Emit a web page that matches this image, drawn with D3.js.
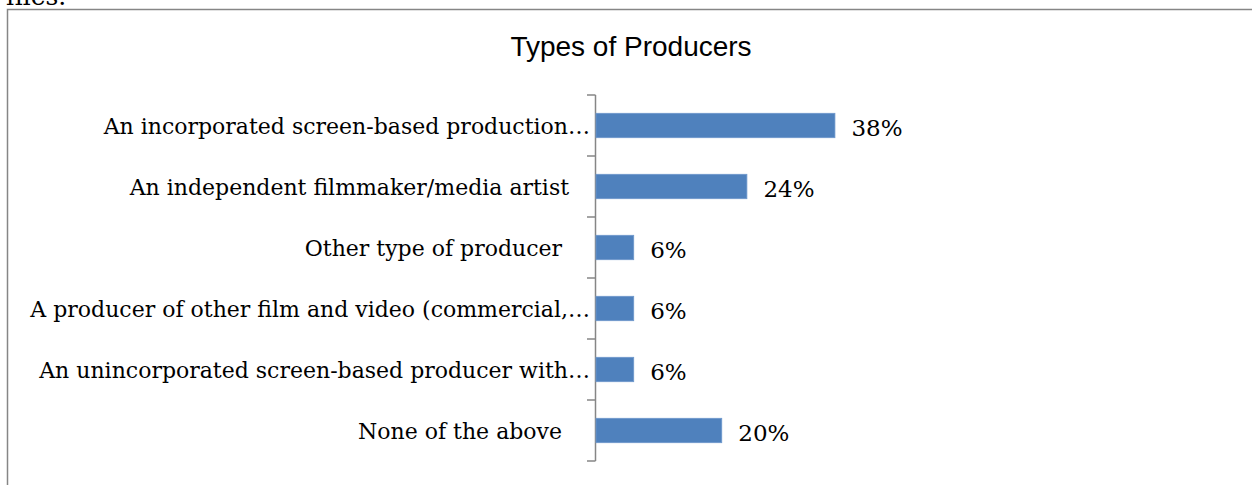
<!DOCTYPE html>
<html>
<head>
<meta charset="utf-8">
<script src="https://cdn.jsdelivr.net/npm/d3@7"></script>
<style>
  html, body { margin: 0; padding: 0; background: #fff; }
  svg { display: block; }
  text { white-space: pre; }
</style>
</head>
<body>
<svg id="chart" width="1252" height="485"></svg>
<script>
// Survey response: type of producer (share of respondents, %)
const categories = [
  "An incorporated screen-based production…",
  "An independent filmmaker/media artist   ",
  "Other type of producer    ",
  "A producer of other film and video (commercial,…",
  "An unincorporated screen-based producer with…",
  "None of the above    "
];
const values = [38, 24, 6, 6, 6, 20];
const valueLabels = ["38%", "24%", "6%", "6%", "6%", "20%"];
const chartTitle = "Types of Producers";

const svg = d3.select("#chart");

// trailing text of the surrounding document
svg.append("text")
  .attr("x", 6).attr("y", 5)
  .attr("font-family", "DejaVu Serif")
  .attr("font-size", 25)
  .attr("fill", "#000")
  .text("files.");

// chart frame
svg.append("rect")
  .attr("x", 7.5).attr("y", 9.5)
  .attr("width", 1270).attr("height", 520)
  .attr("fill", "none")
  .attr("stroke", "#868686")
  .attr("stroke-width", 1.5);

svg.append("text")
  .attr("x", 631).attr("y", 56)
  .attr("text-anchor", "middle")
  .attr("font-family", "Liberation Sans, Arial, sans-serif")
  .attr("font-size", 28)
  .attr("fill", "#000")
  .text(chartTitle);

const x = d3.scaleLinear().domain([0, 40]).range([595.5, 847]);
const y = d3.scaleBand().domain(categories).range([95, 461]).paddingInner(0.6).paddingOuter(0.3);

// category axis with ticks between bands
const axisG = svg.append("g");
axisG.append("line")
  .attr("x1", 595.5).attr("x2", 595.5)
  .attr("y1", 95).attr("y2", 461)
  .attr("stroke", "#868686").attr("stroke-width", 1.5);
const bounds = d3.range(categories.length + 1).map(i => 95 + i * (461 - 95) / categories.length);
axisG.selectAll("line.tick").data(bounds).join("line")
  .attr("class", "tick")
  .attr("x1", 587).attr("x2", 595.5)
  .attr("y1", d => d).attr("y2", d => d)
  .attr("stroke", "#868686").attr("stroke-width", 1.5);

const bandCenter = c => y(c) + y.bandwidth() / 2;

axisG.selectAll("text.cat").data(categories).join("text")
  .attr("class", "cat")
  .attr("x", 590)
  .attr("y", d => bandCenter(d) + 8)
  .attr("text-anchor", "end")
  .attr("font-family", "DejaVu Serif, serif")
  .attr("font-size", 22)
  .attr("fill", "#000")
  .text(d => d);

// bars
svg.selectAll("rect.bar").data(values).join("rect")
  .attr("class", "bar")
  .attr("x", x(0) + 0.5)
  .attr("y", (d, i) => y(categories[i]))
  .attr("width", d => x(d) - x(0))
  .attr("height", y.bandwidth())
  .attr("fill", "#4F81BD")
  .attr("stroke", "#6E98CC")
  .attr("stroke-width", 0.8);

// value labels
svg.selectAll("text.val").data(values).join("text")
  .attr("class", "val")
  .attr("x", d => x(d) + 17)
  .attr("y", (d, i) => bandCenter(categories[i]) + 10)
  .attr("font-family", "DejaVu Serif, serif")
  .attr("font-size", 23)
  .attr("fill", "#000")
  .text((d, i) => valueLabels[i]);
</script>
</body>
</html>
